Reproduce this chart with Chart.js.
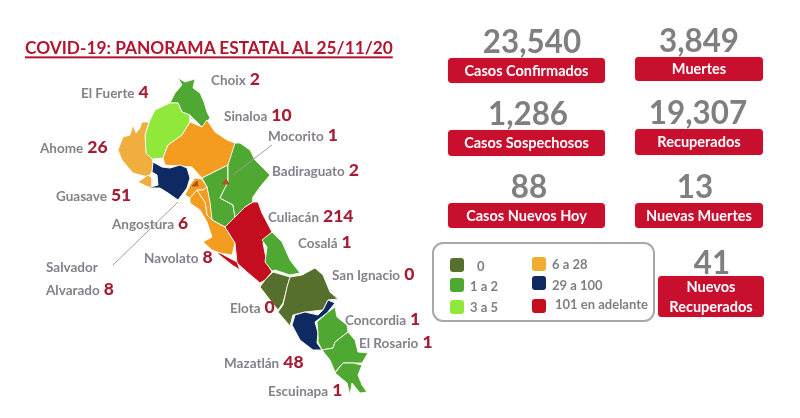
<!DOCTYPE html>
<html><head><meta charset="utf-8">
<script src="https://cdn.jsdelivr.net/npm/chart.js@4"></script>
<style>
html,body{margin:0;padding:0;background:#fff;width:800px;height:418px;overflow:hidden}
body{position:relative;font-family:Lato,"Open Sans",sans-serif;font-weight:700}
canvas{position:absolute;left:0;top:0}
.t{position:absolute;white-space:nowrap;transform:translateY(-50%);line-height:1}
.n{color:#85808a;font-size:13.5px}
.c{color:#a51c35;font-size:17.5px;margin-left:4px;font-weight:900}
.big{position:absolute;transform:translate(-50%,-50%) scaleX(.95);color:#7f7f7f;font-size:33px;line-height:1;white-space:nowrap}
.card{position:absolute;background:#c8102e;border-radius:4px;color:#fff;display:flex;align-items:center;justify-content:center;text-align:center;font-size:14.5px;line-height:20px;box-shadow:0 0 1px #e77}
.sw{position:absolute;width:14px;height:14px;border-radius:3px}
.lg{color:#7f7f7f;font-size:13px}
#title{left:25px;top:48px;font-size:17.3px;color:#b3152f;text-decoration:underline;text-decoration-thickness:1.5px;text-underline-offset:2px}
#box{position:absolute;left:432px;top:242px;width:219px;height:76px;border:2px solid #a8a8a8;border-radius:11px}
</style></head><body>
<canvas id="map" width="800" height="418"></canvas>
<div class="t" id="title">COVID-19: PANORAMA ESTATAL AL 25/11/20</div>
<div id="box"></div>
<script>
const municipalities=["Choix","El Fuerte","Sinaloa","Mocorito","Ahome","Badiraguato","Guasave","Culiacán","Angostura","Cosalá","Salvador\nAlvarado","Navolato","San Ignacio","Elota","Concordia","El Rosario","Mazatlán","Escuinapa"];
const municipalCases=[2,4,10,1,26,2,51,214,6,1,8,8,0,0,1,1,48,1];
const statTotals=["23,540","3,849","1,286","19,307","88","13","41"];
const statNames=["Casos Confirmados","Muertes","Casos Sospechosos","Recuperados","Casos Nuevos Hoy","Nuevas Muertes","Nuevos<br>Recuperados"];
const legendLabels=["0","1 a 2","3 a 5","6 a 28","29 a 100","101 en adelante"];
const legendColors=["#566f2c","#4ea832","#8fe83a","#f0ac2e","#0f2a63","#c40d1e"];
const legendLimits=[0,2,5,28,100,Infinity];

const shapeChoix=[[178,78],[185,82],[195,79],[193,88],[200,93],[204,102],[207,112],[210,118],[202,127],[190,115],[182,112],[178,103],[170,103],[175,93],[182,85]];
const shapeFuerte=[[155,110],[170,103],[178,103],[182,112],[190,115],[190,122],[182,135],[168,145],[163,158],[152,159],[146,153],[145,135],[150,120]];
const shapeAhome=[[142,122],[149,122],[145,135],[146,153],[152,159],[153,163],[152,172],[148,177],[133,173],[122,160],[118,150],[123,137],[130,135],[133,125],[136,133],[140,128]];
const shapeAhomeIsland=[[138,182],[148,175],[152,178],[152,188],[146,186]];
const shapeSinaloa=[[190,122],[202,127],[207,120],[215,132],[227,140],[235,143],[235,153],[228,165],[202,178],[192,167],[165,165],[163,158],[168,145],[182,135]];
const shapeGuasave=[[153,162],[162,167],[170,168],[180,165],[187,168],[190,178],[187,188],[178,200],[168,193],[160,188],[148,188],[158,185],[157,175],[152,172]];
const shapeMocorito=[[202,178],[228,165],[228,182],[220,198],[233,205],[235,217],[225,227],[212,220],[210,208],[207,187]];
const shapeBadiraguato=[[240,143],[250,150],[255,160],[270,175],[260,187],[253,197],[253,202],[245,207],[235,217],[233,205],[220,198],[228,182],[228,165],[235,143]];
const shapeAngostura=[[195,178],[202,179],[207,187],[203,190],[197,190],[190,198],[185,195],[190,185]];
const shapeAlvarado=[[197,190],[203,190],[207,187],[210,202],[212,220],[207,215],[205,202],[200,195]];
const shapeNavolato=[[190,198],[197,190],[200,195],[205,202],[207,215],[212,220],[225,227],[235,243],[232,255],[220,253],[212,250],[203,242],[212,237],[207,222],[200,210],[190,203]];
const shapeCuliacan=[[253,202],[258,202],[262,213],[272,232],[263,243],[267,263],[272,272],[265,280],[260,283],[247,272],[237,263],[235,243],[225,227],[240,212],[245,207]];
const shapeCuliacanCoast=[[217,253],[220,253],[237,262],[240,270],[232,265]];
const shapeCosala=[[272,232],[282,242],[290,260],[300,273],[290,275],[275,270],[272,271],[265,262],[267,247],[262,240]];
const shapeElota=[[273,272],[290,277],[287,288],[283,303],[278,310],[270,300],[260,287],[265,280]];
const shapeIgnacio=[[290,277],[302,275],[315,268],[323,275],[330,292],[338,299],[328,300],[323,310],[305,312],[293,315],[290,326],[278,312],[283,305],[287,287]];
const shapeMazatlan=[[328,300],[335,303],[327,313],[315,322],[318,333],[317,343],[322,350],[313,350],[300,340],[292,325],[295,315],[305,312],[318,315],[323,310]];
const shapeConcordia=[[335,307],[337,317],[347,325],[348,332],[335,342],[333,348],[322,350],[318,342],[318,333],[317,322],[327,313]];
const shapeRosario=[[348,332],[355,340],[358,352],[368,353],[362,363],[353,363],[343,363],[335,372],[330,360],[322,350],[333,348],[335,342]];
const shapeEscuinapa=[[343,363],[353,363],[362,365],[358,375],[362,385],[367,392],[360,393],[352,383],[350,395],[347,383],[335,373]];
const shapeSpotA=[[192,186],[197,181],[198,186]];
const shapeSpotB=[[222,184],[226,179],[229,184]];
const leaderMocorito=[[272,145],[233,175]];
const leaderAlvarado=[[178,202],[113,265]];

function binColor(n){return legendColors[legendLimits.findIndex(l=>n<=l)];}
const caseOf=name=>municipalCases[municipalities.findIndex(m=>m.startsWith(name))];
const regions=[
 [shapeChoix,"Choix"],[shapeFuerte,"El Fuerte"],[shapeAhome,"Ahome"],[shapeAhomeIsland,"Ahome"],
 [shapeSinaloa,"Sinaloa"],[shapeMocorito,"Mocorito"],[shapeBadiraguato,"Badiraguato"],[shapeAngostura,"Angostura"],
 [shapeAlvarado,"Salvador"],[shapeNavolato,"Navolato"],[shapeGuasave,"Guasave"],[shapeCuliacan,"Culiacán"],[shapeCuliacanCoast,"Culiacán"],
 [shapeCosala,"Cosalá"],[shapeElota,"Elota"],[shapeIgnacio,"San Ignacio"],[shapeMazatlan,"Mazatlán"],
 [shapeConcordia,"Concordia"],[shapeRosario,"El Rosario"],[shapeEscuinapa,"Escuinapa"]
];
const pts=a=>a.map(p=>({x:p[0],y:p[1]}));
const datasets=regions.map(([s,name])=>{
  const orange=name==="Ahome"?"#f0ae3e":binColor(caseOf(name));
  const col=(orange==="#f0ac2e")?"#f39c1f":orange;
  return {label:name,data:pts(s.concat([s[0]])),showLine:true,fill:'shape',backgroundColor:col,borderColor:"#f4f6e8",borderWidth:1,pointRadius:0,tension:0};
});
[leaderMocorito,leaderAlvarado].forEach(s=>datasets.push({label:"leader",data:pts(s),showLine:true,fill:false,borderColor:"#a89aa2",borderWidth:1,pointRadius:0}));
[shapeSpotA,shapeSpotB].forEach(s=>datasets.push({label:"spot",data:pts(s.concat([s[0]])),showLine:true,fill:'shape',backgroundColor:"#b5521a",borderColor:"#b5521a",borderWidth:1,pointRadius:0}));
datasets.reverse();

new Chart(document.getElementById('map'),{type:'scatter',data:{datasets},options:{
  responsive:false,animation:false,layout:{padding:0},
  plugins:{legend:{display:false},tooltip:{enabled:false},title:{display:false}},
  scales:{x:{type:'linear',min:0,max:800,display:false},y:{type:'linear',min:0,max:418,reverse:true,display:false}}
}});

const add=(cls,html,css)=>{const d=document.createElement('div');d.className=cls;d.innerHTML=html;Object.assign(d.style,css);document.body.appendChild(d);return d;};
const labelAnchors=[[211,79],[81,92],[224,115],[268,135],[40,147],[272,170],[56,195],[268,216],[112,223],[298,242],[46,278],[144,257],[332,274],[230,307],[345,319],[359,342],[224,362],[268,390]];
municipalities.forEach((m,i)=>{
  const [x,y]=labelAnchors[i];
  const lines=m.split("\n");
  const last=lines.pop();
  const pre=lines.map(l=>`<span class="n">${l}</span><br>`).join("");
  const el=add('t',`${pre}<span class="n">${last}</span><span class="c">${municipalCases[i]}</span>`,{left:x+'px',top:y+'px'});
  if(pre) el.style.lineHeight='21px';
});
const bigAt=[[532,40],[699,39],[528,112],[698,111],[529,185],[695,185],[712,261]];
statTotals.forEach((v,i)=>add('big',v,{left:bigAt[i][0]+'px',top:bigAt[i][1]+'px'}));
const cardAt=[[448,58,157,25],[635,57,128,24],[448,130,157,26],[635,129,128,26],[448,203,157,25],[635,203,128,25],[658,276,106,41]];
statNames.forEach((v,i)=>{const c=cardAt[i];add('card',v,{left:c[0]+'px',top:c[1]+'px',width:c[2]+'px',height:c[3]+'px'});});
const swAt=[[450,258],[450,278],[450,300],[532,257],[532,276],[532,299]];
const lgAt=[[477,266],[470,286],[470,307],[552,264],[552,285],[555,304]];
legendLabels.forEach((l,i)=>{
  add('sw','',{left:swAt[i][0]+'px',top:swAt[i][1]+'px',background:legendColors[i]});
  add('t lg',l,{left:lgAt[i][0]+'px',top:lgAt[i][1]+'px'});
});
</script></body></html>
